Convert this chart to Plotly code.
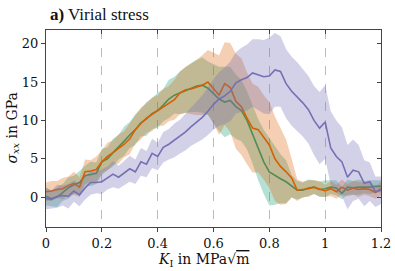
import numpy as np
import plotly.graph_objects as go

# K_I values (MPa sqrt(m))
k_values = [round(0.02 * i, 2) for i in range(61)]

green_mean = [0.1, -0.2, 0.0, 0.6, 1.2, 1.6, 1.9,
              2.8, 3.0, 3.1, 4.6, 5.0, 5.8, 6.5, 7.3, 8.1,
              8.8, 9.7, 10.2, 10.9, 11.3, 12.0, 12.8, 13.3,
              13.6, 14.0, 14.3, 14.5, 14.6, 14.2, 13.5,
              12.8, 12.4, 12.6, 11.8, 11.3, 10.0,
              8.2, 6.2, 4.6, 3.3, 2.8, 2.4, 2.0,
              1.4, 0.9, 0.9, 1.2, 1.3, 1.0, 1.1, 1.3, 1.2, 0.5, 1.3, 1.2, 1.3, 1.3, 1.3, 1.4, 1.4]
green_spread = [1.2, 1.0, 1.3, 1.1, 1.4, 1.2, 1.5,
                1.3, 1.6, 1.4, 1.7, 1.5, 1.8, 1.6, 1.9, 1.7,
                2.0, 1.8, 2.2, 2.0, 2.3, 2.1, 2.5, 2.4,
                2.8, 3.0, 3.2, 3.4, 3.6, 3.5, 3.8,
                4.2, 4.6, 4.4, 4.2, 4.0, 3.8,
                3.8, 4.0, 4.2, 4.4, 3.8, 3.2, 2.8,
                1.5, 1.2, 1.0, 1.1, 0.9, 1.0, 1.1, 0.9, 1.0, 0.8, 1.0, 0.9, 1.0, 0.8, 0.9, 0.8, 0.8]

orange_mean = [0.7, 0.8, 1.0, 1.1, 1.5, 1.8, 1.3,
               3.3, 3.4, 3.6, 4.6, 5.3, 5.8, 6.3, 6.9, 7.6,
               8.8, 9.6, 10.3, 10.8, 11.3, 11.7, 12.2, 12.7,
               13.6, 14.0, 14.1, 14.3, 14.6, 15.0, 14.2,
               13.3, 14.8, 14.3, 12.5, 11.8, 10.3,
               9.0, 8.8, 7.8, 6.8, 5.0, 4.0, 3.3,
               2.5, 0.9, 1.0, 1.1, 1.3, 1.1, 0.8, 1.1, 0.7, 1.3, 0.9, 1.2, 1.0, 1.1, 1.0, 0.6, 1.1]
orange_spread = [1.2, 1.3, 1.1, 1.4, 1.2, 1.5, 1.3,
                 1.6, 1.4, 1.7, 1.5, 1.8, 1.6, 1.9, 1.7, 2.0,
                 1.8, 2.1, 1.9, 2.2, 2.0, 2.4, 2.3, 2.6,
                 2.8, 3.0, 3.3, 3.6, 3.9, 4.2, 4.6,
                 5.2, 5.4, 5.8, 6.2, 6.3, 6.0,
                 5.8, 5.6, 5.5, 5.6, 5.5, 5.0, 4.2,
                 2.5, 1.4, 1.0, 1.1, 0.9, 1.0, 0.8, 1.0, 0.9, 1.0, 0.8, 0.9, 1.0, 0.8, 0.9, 0.8, 0.9]

purple_mean = [-0.2, -0.3, 0.1, 0.2, 0.1, 0.8, 0.3,
               1.2, 1.9, 1.9, 2.0, 2.5, 3.0, 2.6, 3.1, 3.7,
               3.3, 4.6, 4.3, 5.7, 5.3, 6.5, 6.9, 7.4,
               7.9, 8.5, 9.2, 9.8, 10.4, 11.2, 12.1,
               12.8, 13.2, 13.8, 14.9, 15.3, 15.6,
               16.2, 16.0, 15.7, 15.8, 16.6, 16.4, 14.8,
               13.8, 13.1, 12.3, 11.4, 10.0, 9.0, 9.8, 6.4, 5.3, 4.6, 2.6, 3.5, 3.3, 1.8, 2.0, 0.7, 0.9]
purple_spread = [1.4, 1.2, 1.5, 1.3, 1.6, 1.4, 1.5,
                 1.5, 1.6, 1.4, 1.6, 1.5, 1.7, 1.5, 1.6, 1.7,
                 1.6, 1.8, 1.7, 1.9, 1.8, 2.0, 2.0, 2.2,
                 2.2, 2.4, 2.5, 2.7, 2.9, 3.1, 3.3,
                 3.5, 3.7, 3.9, 4.0, 4.2, 4.3,
                 4.4, 4.6, 4.8, 5.0, 4.8, 4.6, 4.5,
                 4.5, 4.5, 4.4, 4.4, 4.5, 4.7, 4.8, 4.8, 4.7, 4.5, 4.2, 4.0, 3.5, 3.0, 2.5, 2.0, 1.8]

x_ticks = [0, 0.2, 0.4, 0.6, 0.8, 1.0, 1.2]
x_tick_labels = ["0", "0.2", "0.4", "0.6", "0.8", "1", "1.2"]
y_ticks = [0, 5, 10, 15, 20]

series = [
    (green_mean, green_spread, "#1b9e77", "rgba(27,158,119,0.32)"),
    (orange_mean, orange_spread, "#d95f02", "rgba(217,95,2,0.30)"),
    (purple_mean, purple_spread, "#7570b3", "rgba(117,112,179,0.32)"),
]

FONT = "DejaVu Serif, Liberation Serif, serif"
TFONT = "Liberation Serif, DejaVu Serif, serif"
fig = go.Figure()
for mean, spread, col, fillcol in series:
    m = np.array(mean)
    s = np.array(spread)
    fig.add_trace(go.Scatter(x=k_values, y=m + s, mode="lines", line=dict(width=0),
                             showlegend=False, hoverinfo="skip"))
    fig.add_trace(go.Scatter(x=k_values, y=m - s, mode="lines", line=dict(width=0),
                             fill="tonexty", fillcolor=fillcol, showlegend=False, hoverinfo="skip"))
    fig.add_trace(go.Scatter(x=k_values, y=m, mode="lines", line=dict(color=col, width=1.6),
                             showlegend=False))

axcol = "#444"
common = dict(showline=True, linecolor=axcol, linewidth=1.2, zeroline=False, automargin=False,
              tickcolor=axcol, ticklen=4)
fig.update_layout(
    width=395, height=271,
    margin=dict(l=46, r=14, t=30, b=44),
    paper_bgcolor="white", plot_bgcolor="white",
    font=dict(family=FONT, size=13, color="#111"),
    xaxis=dict(range=[0, 1.2], tickvals=x_ticks, ticktext=x_tick_labels, ticks="outside",
               showgrid=True, gridcolor="#bbbbbb", griddash="dash", gridwidth=1,
               tickfont=dict(size=13), **common),
    yaxis=dict(range=[-3.9, 21.8], tickvals=y_ticks, ticks="outside", showgrid=False,
               tickfont=dict(size=13), **common),
    xaxis2=dict(range=[0, 1.2], tickvals=x_ticks, overlaying="x", side="top", ticks="inside",
                showticklabels=False, showgrid=False, anchor="y", **common),
    yaxis2=dict(range=[-3.9, 21.8], tickvals=y_ticks, overlaying="y", side="right", ticks="inside",
                showticklabels=False, showgrid=False, anchor="x", **common),
    annotations=[
        dict(text="<b>a)</b> Virial stress", xref="paper", yref="paper", x=0.0, y=1.0,
             xanchor="left", yanchor="bottom", yshift=4, xshift=2, showarrow=False,
             font=dict(family=TFONT, size=17, color="#111")),
        dict(text="<i>K</i><sub>I</sub> in MPa√<span style='text-decoration:overline'>m</span>",
             xref="paper", yref="paper", x=0.47, y=0, yshift=-33, xanchor="center", yanchor="middle",
             showarrow=False, font=dict(family=FONT, size=14, color="#111")),
        dict(text="<i>σ</i><sub><i>xx</i></sub> in GPa", xref="paper", yref="paper", x=0, y=0.5,
             xshift=-34, xanchor="center", yanchor="middle", textangle=-90, showarrow=False,
             font=dict(family=FONT, size=14, color="#111")),
    ],
)
# invisible trace to activate secondary axes
fig.add_trace(go.Scatter(x=[0], y=[0], xaxis="x2", yaxis="y2", mode="markers",
                         marker=dict(opacity=0), showlegend=False, hoverinfo="skip"))
fig.write_html("out.html", config={"displayModeBar": False},
               post_script="document.body.style.margin='0px';")
